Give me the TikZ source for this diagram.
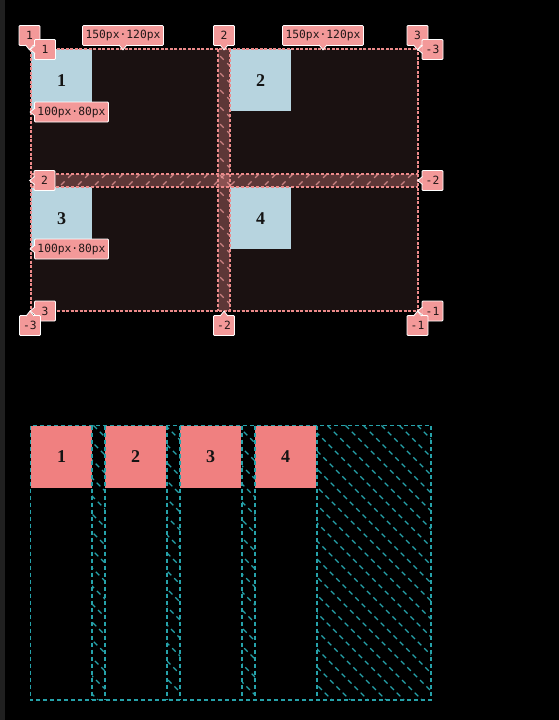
\documentclass[tikz,border=0pt]{standalone}
\usepackage{fontspec}
\setmainfont{Liberation Serif}
\setmonofont{DejaVu Sans Mono}
\definecolor{pagebg}{RGB}{0,0,0}
\definecolor{sidebar}{RGB}{32,32,32}
\definecolor{gridbg}{RGB}{26,17,17}
\definecolor{gridline}{RGB}{236,138,138}
\definecolor{itemblue}{RGB}{183,212,223}
\definecolor{itemred}{RGB}{240,128,128}
\definecolor{flexline}{RGB}{38,162,170}
\definecolor{badgebg}{RGB}{243,153,153}
\definecolor{badgetext}{RGB}{34,24,24}
\tikzset{
  cellblue/.style={fill=itemblue,anchor=north west,inner sep=0pt,minimum width=61pt,minimum height=62pt,text=black!92,font=\bfseries\fontsize{18}{18}\selectfont},
  cellred/.style={cellblue,fill=itemred},
  badge/.style={fill=badgebg,draw=white,line width=0.8pt,rounded corners=1pt,inner xsep=3pt,inner ysep=0pt,minimum width=21pt,minimum height=20pt,text=badgetext,font=\ttfamily\fontsize{11.3}{11.3}\selectfont},
  ptr/.style={fill=badgebg,draw=white,line width=0.8pt},
  gapfill/.style={fill=gridline,fill opacity=0.32},
  gapedge/.style={draw=gridline,line width=1.2pt,dash pattern=on 3pt off 2pt},
  hatchpink/.style={draw=gridline!85!white,line width=1.2pt,dash pattern=on 5pt off 5pt,opacity=0.75},
  hatchteal/.style={draw=flexline,line width=1.2pt,dash pattern=on 5pt off 4pt},
  flexedge/.style={draw=flexline,line width=1.3pt,dash pattern=on 4pt off 3pt}
}
\begin{document}
\begin{tikzpicture}[x=1pt,y=-1pt]
\path[use as bounding box] (0,0) rectangle (559,720);
\fill[pagebg] (0,0) rectangle (559,720);
\fill[sidebar] (0,0) rectangle (5,720);
% grid container
\fill[gridbg] (31,49) rectangle (418,311);
\node[cellblue] (cell1) at (31,49) {1};
\node[cellblue] (cell2) at (230,49) {2};
\node[cellblue] (cell3) at (31,187) {3};
\node[cellblue] (cell4) at (230,187) {4};
% gaps
\fill[gapfill] (218,49) rectangle (230,311);
\fill[gapfill] (31,174) rectangle (418,187);
\begin{scope}
\clip (218,49) rectangle (230,311);
\foreach \k in {0,...,16} \draw[hatchpink] (206,42+17*\k) -- ++(36,36);
\end{scope}
\begin{scope}
\clip (31,174) rectangle (418,187);
\foreach \k in {0,...,24} \draw[hatchpink] (20+17*\k,192) -- ++(22,-22);
\end{scope}
\draw[gapedge] (218,49) -- (218,311) (230,49) -- (230,311);
\draw[gapedge] (31,174) -- (418,174) (31,187) -- (418,187);
\draw[gridline,line width=1.4pt,dash pattern=on 3pt off 1.5pt] (31,49) rectangle (418,311);
% column line badges, top
\node[badge] (col1top) at (29.5,35.5) {1};
\node[badge] (size1top) at (123,35.5) {150px·120px};
\node[badge] (col2top) at (224,35.5) {2};
\node[badge] (size2top) at (323,35.5) {150px·120px};
\node[badge] (col3top) at (417.5,35.5) {3};
\foreach \n in {col1top,size1top,col2top,size2top,col3top}
  \filldraw[ptr] ([xshift=-4pt,yshift=1pt]\n.south) -- ([yshift=-4pt]\n.south) -- ([xshift=4pt,yshift=1pt]\n.south);
% row line badges
\node[badge] (row1left) at (45,49.5) {1};
\node[badge] (size1left) at (71.5,112) {100px·80px};
\node[badge] (row2left) at (44.5,180.5) {2};
\node[badge] (size3left) at (71.5,249) {100px·80px};
\node[badge] (row3left) at (45,311) {3};
\node[badge] (row1right) at (432.5,49.5) {-3};
\node[badge] (row2right) at (432.5,180.5) {-2};
\node[badge] (row3right) at (432.5,311) {-1};
\foreach \n in {row1left,size1left,row2left,size3left,row3left,row1right,row2right,row3right}
  \filldraw[ptr] ([xshift=1pt,yshift=4pt]\n.west) -- ([xshift=-4pt]\n.west) -- ([xshift=1pt,yshift=-4pt]\n.west);
% column line badges, bottom
\node[badge] (col1bot) at (30,325.5) {-3};
\node[badge] (col2bot) at (224,325.5) {-2};
\node[badge] (col3bot) at (417.5,325.5) {-1};
\foreach \n in {col1bot,col2bot,col3bot}
  \filldraw[ptr] ([xshift=-4pt,yshift=-1pt]\n.north) -- ([yshift=4pt]\n.north) -- ([xshift=4pt,yshift=-1pt]\n.north);
% flex container
\node[cellred] (item1) at (31,425.5) {1};
\node[cellred] (item2) at (105,425.5) {2};
\node[cellred] (item3) at (180,425.5) {3};
\node[cellred] (item4) at (255,425.5) {4};
\begin{scope}
\clip (92,425) rectangle (105,700) (167,425) rectangle (180,700) (242,425) rectangle (255,700) (317,425) rectangle (431,700);
\foreach \c in {-620,-602,...,20} \draw[hatchteal] (\c+400,400) -- (\c+730,730);
\end{scope}
\foreach \x in {92,105,167,180,242,255,317} \draw[flexedge] (\x,425.5) -- (\x,700);
\draw[flexedge] (30.5,425.5) rectangle (431,700);
\end{tikzpicture}
\end{document}
